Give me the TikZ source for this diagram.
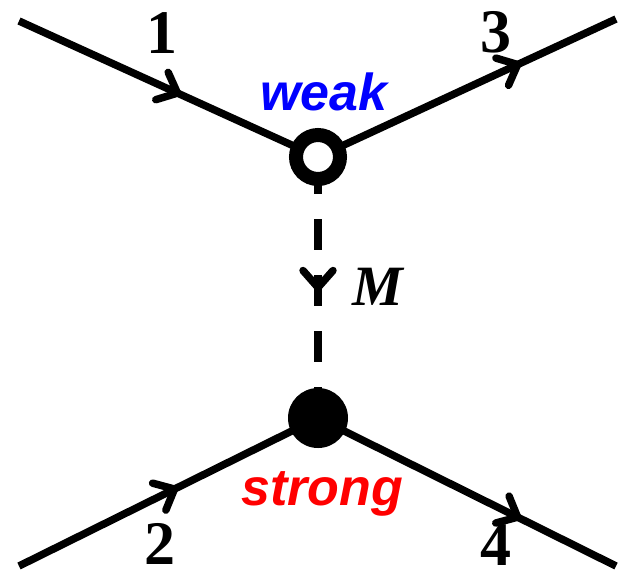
\documentclass[tikz,border=0pt]{standalone}
\usepackage{fontspec}
\setmainfont{Liberation Serif}
\newfontfamily\sansf{Liberation Sans}
\usetikzlibrary{decorations.markings}
\definecolor{weakblue}{RGB}{0,0,255}
\definecolor{strongred}{RGB}{255,0,0}
\tikzset{
  leg/.style={line width=7.5pt},
  midarrow/.style={postaction={decorate},
    decoration={markings, mark=at position #1 with {\draw[solid, line width=7.5pt, line cap=round, line join=round] (-17pt,15pt) -- (0pt,0pt) -- (-17pt,-15pt);}}},
  weakvertex/.style={circle, draw=black, fill=white, line width=14pt, minimum size=44pt, inner sep=0pt},
  strongvertex/.style={circle, fill=black, minimum size=60pt, inner sep=0pt},
  numlabel/.style={font=\fontsize{62}{62}\selectfont\bfseries, anchor=base, inner sep=0pt},
  kindlabel/.style={font=\fontsize{52}{52}\selectfont\sansf\bfseries\itshape, anchor=base, inner sep=0pt},
  proplabel/.style={leg, dash pattern=on 31pt off 25pt, dash phase=50pt, line cap=butt}
}
\begin{document}
\begin{tikzpicture}[x=1pt, y=-1pt]
\useasboundingbox (0,0) rectangle (620,574);
\coordinate (v1) at (318,157);
\coordinate (v2) at (318,418);
\coordinate (e1) at (19,21);
\coordinate (e3) at (616,19);
\coordinate (e2) at (19,566);
\coordinate (e4) at (616,566);
\draw[leg, midarrow=0.53] (e1) -- (v1);
\draw[leg, midarrow=0.67] (v1) -- (e3);
\draw[leg, midarrow=0.52] (e2) -- (v2);
\draw[leg, midarrow=0.67] (v2) -- (e4);
\draw[proplabel, midarrow=0.50] (v1) -- (v2);
\node[weakvertex] (wv) at (v1) {};
\node[strongvertex] (sv) at (v2) {};
\node[numlabel] (n1) at (162,53) {1};
\node[numlabel] (n3) at (496,52) {3};
\node[numlabel] (n2) at (160,564) {2};
\node[numlabel] (n4) at (496,565) {4};
\node[kindlabel, text=weakblue] (weak) at (324,110) {weak};
\node[kindlabel, text=strongred] (strong) at (322,505) {strong};
\node[font=\fontsize{57}{57}\selectfont\bfseries\itshape, anchor=base, inner sep=0pt] (m) at (378,305) {M};
\end{tikzpicture}
\end{document}
